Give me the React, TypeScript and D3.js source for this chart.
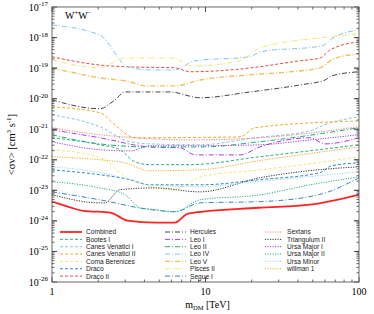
import React, { useEffect, useRef } from 'react';
import * as d3 from 'd3';

// each curve: [m_DM in TeV, log10 <sigma v> in cm^3 s^-1]
const combined = [[1, -23.37], [1.3, -23.55], [1.6, -23.67], [2.4, -23.73], [3.1, -23.99], [4.7, -24.06], [6.3, -24.06], [7.7, -23.76], [22, -23.57], [48, -23.47], [100, -23.14]];
const bootesI = [[1, -21.28], [2.05, -21.51], [2.77, -21.67], [3.47, -22.07], [4.35, -22.16], [7.9, -22.16], [22.6, -21.9], [100, -21.51]];
const canesVenaticiI = [[1, -20.53], [2.05, -20.92], [3.22, -21.41], [4.35, -21.48], [9.2, -21.51], [21, -21.28], [48, -21.05], [60, -20.85], [100, -20.59]];
const canesVenaticiII = [[1, -20.27], [2.05, -20.46], [2.57, -20.86], [3.47, -21.28], [16.8, -21.25], [21, -20.95], [100, -20.73]];
const comaBerenices = [[1, -21.67], [2.05, -21.93], [3.22, -22.65], [6.33, -22.98], [9.2, -22.56], [22.6, -22.33], [48, -22.13], [100, -21.9]];
const draco = [[1, -22.33], [2.05, -22.49], [3.22, -22.65], [4.35, -22.82], [9.2, -22.82], [22.6, -22.65], [55.7, -22.42], [66, -22.2], [100, -22.1]];
const dracoII = [[1, -18.63], [2.05, -18.9], [3.22, -18.96], [6.33, -18.99], [7.93, -19.12], [16.8, -19.03], [41.3, -18.76], [55.7, -18.67], [64.7, -18.41], [100, -18.14]];
const hercules = [[1, -20.04], [2.05, -20.33], [2.57, -20.04], [2.99, -19.78], [5.87, -19.78], [9.2, -19.97], [19.5, -19.78], [41.3, -19.55], [60, -19.39], [66.7, -19.25], [100, -19.12]];
const leoI = [[1, -21.02], [2.05, -21.28], [4.35, -21.58], [6.82, -21.61], [8.54, -21.84], [16.8, -21.84], [22.6, -21.58], [48, -21.28], [60, -21.48], [100, -21.28]];
const leoII = [[1, -21.18], [2.05, -21.48], [4.35, -21.58], [9.2, -21.58], [22.6, -21.41], [55.7, -21.15], [100, -20.95]];
const leoIV = [[1, -17.59], [2.05, -17.92], [3.13, -18.96], [4.35, -19.06], [6.33, -19.06], [8.54, -18.76], [19.5, -18.63], [22.6, -18.47], [57.4, -18.27], [67.7, -18.01], [100, -17.75]];
const leoV = [[1, -18.99], [2.05, -19.32], [3.22, -19.45], [4.03, -19.58], [6.33, -19.58], [9.2, -19.39], [19.5, -19.22], [35.5, -19.12], [55.7, -18.99], [67.7, -18.7], [100, -18.54]];
const piscesII = [[1, -18.73], [2.05, -18.99], [2.99, -18.67], [6.14, -18.67], [8.17, -18.93], [16.8, -18.76], [22.6, -18.34], [55.7, -18.01], [100, -17.88]];
const segueI = [[1, -23.05], [2.05, -23.31], [4.35, -23.63], [6.33, -23.7], [9.2, -23.41], [22.6, -23.37], [55, -23.14], [100, -22.59]];
const sextans = [[1, -20.95], [2.05, -21.18], [4.35, -21.31], [7.93, -21.35], [22.6, -21.28], [100, -20.92]];
const triangulumII = [[1, -23.14], [2.05, -23.41], [2.21, -23.41], [2.77, -22.98], [4.69, -22.92], [9.2, -23.05], [22.6, -22.59], [41.3, -22.39], [100, -22.23]];
const ursaMajorI = [[1, -21.41], [2.05, -21.67], [3.22, -21.71], [4.35, -21.54], [9.2, -21.54], [22.6, -21.51], [48, -21.35], [100, -21.18]];
const ursaMajorII = [[1, -22.72], [2.05, -22.92], [2.99, -23.14], [3.74, -23.57], [4.69, -23.63], [6.33, -23.7], [9.2, -23.31], [22.6, -23.15], [48, -22.82], [100, -22.56]];
const ursaMinor = [[1, -22.23], [2.05, -22.42], [3.22, -22.65], [4.35, -22.82], [9.2, -22.88], [21, -22.72], [100, -22.39]];
const willman1 = [[1, -21.9], [2.05, -22.0], [2.99, -22.1], [4.35, -22.36], [9.2, -22.33], [21, -22.05], [100, -21.58]];

const xTickLabels = ['1', '10', '100'];
const yExponents = [-17, -18, -19, -20, -21, -22, -23, -24, -25, -26];

const dashed = '3,2';
const dotted = '1.2,1.3';
const dashDot = '5,2,1,2';

// legend order, column by column
const series = [
  { name: 'Combined', data: combined, color: '#ff2222', dash: null, w: 1.8 },
  { name: 'Bootes I', data: bootesI, color: '#2fae84', dash: dashed, w: 1 },
  { name: 'Canes Venatici I', data: canesVenaticiI, color: '#84c6ec', dash: dashed, w: 1 },
  { name: 'Canes Venatici II', data: canesVenaticiII, color: '#f0ad2a', dash: dashed, w: 1 },
  { name: 'Coma Berenices', data: comaBerenices, color: '#f3e77a', dash: dashed, w: 1 },
  { name: 'Draco', data: draco, color: '#2f87c8', dash: dashed, w: 1 },
  { name: 'Draco II', data: dracoII, color: '#ea4a3a', dash: dashed, w: 1 },
  { name: 'Hercules', data: hercules, color: '#444444', dash: dashDot, w: 1 },
  { name: 'Leo I', data: leoI, color: '#a040dc', dash: dashDot, w: 1 },
  { name: 'Leo II', data: leoII, color: '#22aa80', dash: dashDot, w: 1 },
  { name: 'Leo IV', data: leoIV, color: '#84c6ec', dash: dashDot, w: 1 },
  { name: 'Leo V', data: leoV, color: '#f2bf5c', dash: dashDot, w: 1.4 },
  { name: 'Pisces II', data: piscesII, color: '#f3e77a', dash: dashDot, w: 1 },
  { name: 'Segue I', data: segueI, color: '#3a86bb', dash: dashDot, w: 1 },
  { name: 'Sextans', data: sextans, color: '#f08080', dash: dotted, w: 1 },
  { name: 'Triangulum II', data: triangulumII, color: '#333333', dash: dotted, w: 1 },
  { name: 'Ursa Major I', data: ursaMajorI, color: '#a040dc', dash: dotted, w: 1 },
  { name: 'Ursa Major II', data: ursaMajorII, color: '#2fae84', dash: dotted, w: 1 },
  { name: 'Ursa Minor', data: ursaMinor, color: '#9ed3f2', dash: dotted, w: 1 },
  { name: 'willman 1', data: willman1, color: '#f0ad2a', dash: dotted, w: 1 },
];

const W = 374;
const H = 314;
const margin = { top: 7, right: 15, bottom: 32, left: 52 };
const serif = '"Liberation Serif", "DejaVu Serif", serif';
const sans = '"Liberation Sans", Arial, sans-serif';

export default function App() {
  const ref = useRef<SVGSVGElement>(null);

  useEffect(() => {
    const svg = d3.select(ref.current);
    svg.selectAll('*').remove();

    const x = d3.scaleLog().domain([1, 100]).range([margin.left, W - margin.right]);
    const y = d3.scaleLog().domain([1e-26, 1e-17]).range([H - margin.bottom, margin.top]);
    const [x0, x1] = x.range();
    const [y0, y1] = y.range();

    svg.append('defs').append('clipPath').attr('id', 'plot')
      .append('rect').attr('x', x0).attr('y', y1).attr('width', x1 - x0).attr('height', y0 - y1);

    const line = d3.line<number[]>()
      .x(d => x(d[0]))
      .y(d => y(Math.pow(10, d[1])))
      .curve(d3.curveMonotoneX);

    const g = svg.append('g').attr('clip-path', 'url(#plot)');
    // combined drawn last so it sits on top
    [...series.slice(1), series[0]].forEach(s => {
      g.append('path')
        .attr('d', line(s.data))
        .attr('fill', 'none')
        .attr('stroke', s.color)
        .attr('stroke-width', s.w)
        .attr('stroke-dasharray', s.dash);
    });

    // frame and ticks
    const axis = svg.append('g').attr('stroke', '#444').attr('stroke-width', 0.8);
    axis.append('rect').attr('x', x0).attr('y', y1).attr('width', x1 - x0).attr('height', y0 - y1).attr('fill', 'none');

    const isDecade = (t: number) => Math.abs(Math.log10(t) - Math.round(Math.log10(t))) < 1e-6;

    const xTicks: number[] = [];
    for (let d = 1; d < 100; d *= 10) for (let k = 1; k <= 10; k++) xTicks.push(d * k);
    xTicks.forEach(t => {
      const len = isDecade(t) ? 5 : 2.5;
      axis.append('line').attr('x1', x(t)).attr('x2', x(t)).attr('y1', y0).attr('y2', y0 - len);
      axis.append('line').attr('x1', x(t)).attr('x2', x(t)).attr('y1', y1).attr('y2', y1 + len);
    });

    const yTicks: number[] = [];
    for (let e = -26; e < -17; e++) for (let k = 1; k <= 10; k++) yTicks.push(k * Math.pow(10, e));
    yTicks.forEach(t => {
      const len = isDecade(t) ? 5 : 2.5;
      axis.append('line').attr('y1', y(t)).attr('y2', y(t)).attr('x1', x0).attr('x2', x0 + len);
      axis.append('line').attr('y1', y(t)).attr('y2', y(t)).attr('x1', x1).attr('x2', x1 - len);
    });

    // tick labels
    xTickLabels.forEach(l => {
      svg.append('text').attr('x', x(+l)).attr('y', y0 + 13)
        .attr('text-anchor', 'middle').attr('font-family', serif).attr('font-size', 10).text(l);
    });
    yExponents.forEach(e => {
      const t = svg.append('text').attr('x', x0 - 4).attr('y', y(Math.pow(10, e)) + 3.5)
        .attr('text-anchor', 'end').attr('font-family', serif).attr('font-size', 10);
      t.append('tspan').text('10');
      t.append('tspan').attr('dy', -4.5).attr('font-size', 7).text(String(e));
    });

    // axis titles
    const xt = svg.append('text').attr('x', (x0 + x1) / 2 + 2).attr('y', H - 6)
      .attr('text-anchor', 'middle').attr('font-family', serif).attr('font-size', 10);
    xt.append('tspan').text('m');
    xt.append('tspan').attr('dy', 2).attr('font-size', 6.5).text('DM');
    xt.append('tspan').attr('dy', -2).text(' [TeV]');

    const yt = svg.append('text').attr('transform', `translate(15,${(y0 + y1) / 2}) rotate(-90)`)
      .attr('text-anchor', 'middle').attr('font-family', serif).attr('font-size', 10.5);
    yt.append('tspan').text('<σv> [cm');
    yt.append('tspan').attr('dy', -4).attr('font-size', 7).text('3');
    yt.append('tspan').attr('dy', 4).text(' s');
    yt.append('tspan').attr('dy', -4).attr('font-size', 7).text('-1');
    yt.append('tspan').attr('dy', 4).text(']');

    const ch = svg.append('text').attr('x', 65).attr('y', 19).attr('font-family', serif).attr('font-size', 10);
    ch.append('tspan').text('W');
    ch.append('tspan').attr('dy', -4).attr('font-size', 6.5).text('+');
    ch.append('tspan').attr('dy', 4).text('W');
    ch.append('tspan').attr('dy', -4).attr('font-size', 6.5).text('−');

    // legend
    const cols = [
      { sx: 60, len: 22, tx: 86 },
      { sx: 165, len: 21, tx: 190 },
      { sx: 265, len: 17, tx: 287 },
    ];
    const perCol = [7, 7, 6];
    let idx = 0;
    perCol.forEach((n, c) => {
      for (let r = 0; r < n; r++, idx++) {
        const s = series[idx];
        const ly = 232 + r * 7.35;
        svg.append('line').attr('x1', cols[c].sx).attr('x2', cols[c].sx + cols[c].len)
          .attr('y1', ly).attr('y2', ly)
          .attr('stroke', s.color).attr('stroke-width', s.w)
          .attr('stroke-dasharray', s.dash);
        svg.append('text').attr('x', cols[c].tx).attr('y', ly + 2.4)
          .attr('font-family', sans).attr('font-size', 6.6).attr('fill', '#222').text(s.name);
      }
    });
  }, []);

  return (
    <svg ref={ref} width={W} height={H}
      style={{ position: 'absolute', left: 0, top: 0, background: '#fff' }} />
  );
}
